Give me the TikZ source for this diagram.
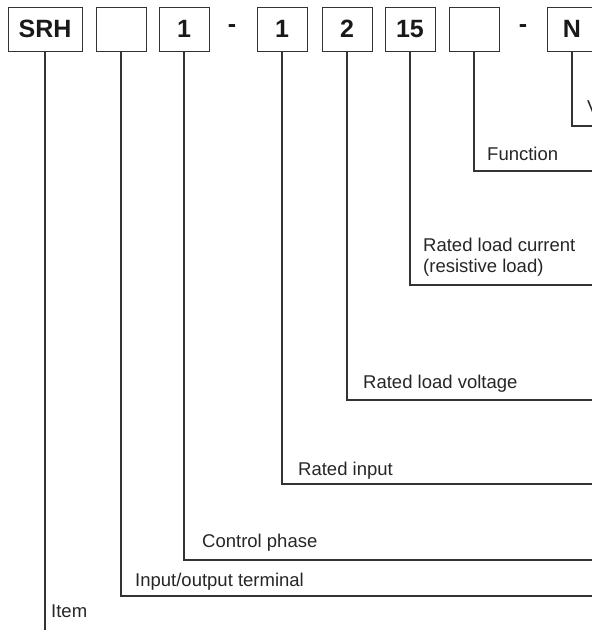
\documentclass[tikz,border=0pt]{standalone}
\usepackage{fontspec}
\setmainfont{Liberation Sans}
\usepackage{tikz}
\usetikzlibrary{positioning}

\begin{document}
\begin{tikzpicture}[
    x=1pt, y=-1pt,
    % Node styles
    codebox/.style={rectangle, draw=black!80, line width=1pt, minimum width=50pt, minimum height=44pt, inner sep=0pt, font=\fontsize{25}{28}\selectfont\bfseries, text=black!90},
    sep/.style={inner sep=0pt, font=\fontsize{25}{28}\selectfont\bfseries, text=black!90},
    lbl/.style={inner sep=0pt, anchor=base west, font=\fontsize{18.5}{21}\selectfont, text=black!85},
    leader/.style={draw=black!80, line width=1.2pt},
]
\useasboundingbox (0,0) rectangle (592,630);

% ============================================================================
% MODEL CODE BOXES
% ============================================================================
\node[codebox, minimum width=74pt] (srh) at (45,29) {SRH};
\foreach \name/\x/\code in {io/121/{}, ph/184/1, in/282/1, lv/347/2, lc/410/15, fn/474/{}, vt/572/N} {
    \node[codebox] (\name) at (\x,29) {\code};
}
\node[sep] (dash1) at (232,29) {-};
\node[sep] (dash2) at (523,29) {-};

% ============================================================================
% LEADER LINES
% ============================================================================
\coordinate (srh-end) at (srh.south |- 0,630);
\draw[leader] (srh.south) -- (srh-end);
\foreach \name/\y in {vt/126, fn/171, lc/285, lv/400, in/484, ph/560, io/596} {
    \coordinate (\name-end) at (600,\y);
    \draw[leader] (\name.south) |- (\name-end);
}

% ============================================================================
% LABELS
% ============================================================================
\node[lbl] (vt-lbl) at (587,113) {V};
\node[lbl] (fn-lbl) at (487,160) {Function};
\node[lbl] (lc-lbl) at (423,251) {Rated load current};
\node[lbl] (lc-lbl2) at (423,272) {(resistive load)};
\node[lbl] (lv-lbl) at (363,388) {Rated load voltage};
\node[lbl] (in-lbl) at (298,475) {Rated input};
\node[lbl] (ph-lbl) at (202,547) {Control phase};
\node[lbl] (io-lbl) at (135,586) {Input/output terminal};
\node[lbl] (srh-lbl) at (51,617) {Item};

\end{tikzpicture}
\end{document}
